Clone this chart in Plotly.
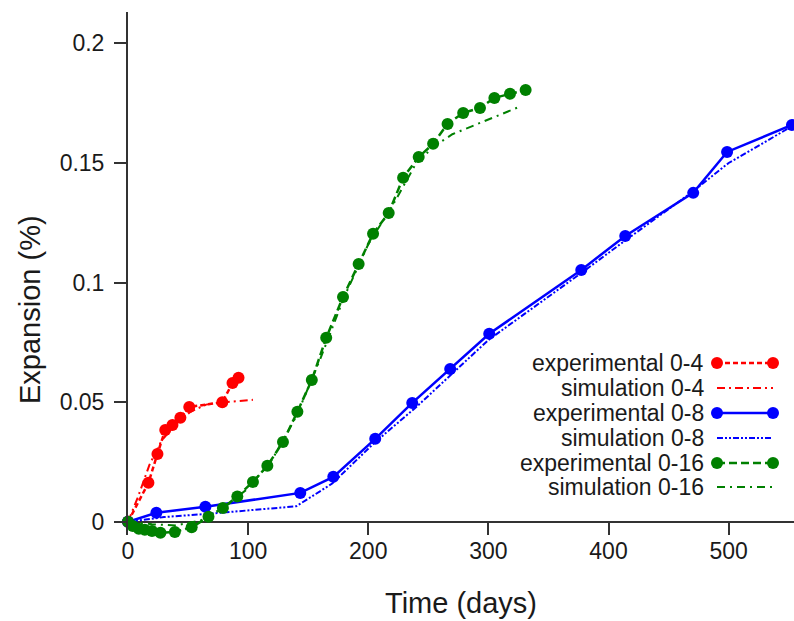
import plotly.graph_objects as go

# Measured expansion (%) against time (days) for the three specimen sizes,
# with the corresponding simulation curves.
exp_04_days = [0, 17, 24.5, 31, 37, 43.6, 51, 78.5, 87, 92]
exp_04_expansion = [0, 0.0163, 0.0284, 0.0384, 0.0405, 0.0435, 0.048, 0.050, 0.058, 0.0602]

sim_04_days = [0, 8, 18, 28, 40, 52, 65, 80, 104]
sim_04_expansion = [0, 0.010, 0.024, 0.034, 0.041, 0.046, 0.049, 0.050, 0.051]

exp_08_days = [0, 23.6, 64.4, 143.4, 170.9, 205.8, 236.6, 268.2, 300.7, 377.3, 413.9, 470.5, 498.7, 552.7]
exp_08_expansion = [0, 0.0038, 0.0063, 0.0121, 0.0188, 0.0347, 0.0497, 0.0639, 0.0786, 0.1053, 0.1195, 0.1375, 0.1546, 0.1659]

sim_08_days = [0, 30, 70, 140, 170, 205, 240, 300, 380, 415, 470, 500, 555]
sim_08_expansion = [0, 0.002, 0.0035, 0.0065, 0.016, 0.033, 0.048, 0.076, 0.105, 0.118, 0.138, 0.150, 0.166]

exp_16_days = [0, 4, 9, 14, 20, 27, 39, 53, 67, 79, 91, 104, 116, 129, 141, 153, 165, 179,
               192, 204, 217, 229, 242, 254, 266, 279, 293, 305, 318, 331]
exp_16_expansion = [0, -0.0017, -0.0029, -0.0033, -0.0038, -0.0046, -0.0042, -0.0023, 0.0021,
                    0.0058, 0.0106, 0.0167, 0.0234, 0.0334, 0.046, 0.0593, 0.0769, 0.094,
                    0.1078, 0.1204, 0.1291, 0.1438, 0.1525, 0.158, 0.1663, 0.1709, 0.173,
                    0.1772, 0.1789, 0.1805]

sim_16_days = [0, 20, 40, 60, 80, 100, 120, 140, 160, 180, 200, 220, 240, 255, 270, 290, 310, 326]
sim_16_expansion = [0, -0.001, -0.0015, 0.0005, 0.006, 0.014, 0.026, 0.044, 0.068, 0.094,
                    0.116, 0.132, 0.150, 0.157, 0.162, 0.166, 0.170, 0.1735]

x_tick_values = [0, 100, 200, 300, 400, 500]
y_tick_values = [0, 0.05, 0.1, 0.15, 0.2]
y_tick_labels = ["0", "0.05", "0.1", "0.15", "0.2"]

legend_labels = ["experimental 0-4", "simulation 0-4", "experimental 0-8",
                 "simulation 0-8", "experimental 0-16", "simulation 0-16"]

RED = "#ff0000"
BLUE = "#0000ff"
GREEN = "#008000"
AXIS = "#333333"
TEXT = "#1a1a1a"
FONT = "Liberation Sans, Arial, sans-serif"

# line styles: (colour, dash, with markers?, width)
styles = [
    (RED, "5px,3px", True, 2.5),
    (RED, "8px,4px,2px,4px", False, 2),
    (BLUE, "solid", True, 2.5),
    (BLUE, "6px,2px,2px,2px,2px,2px", False, 2),
    (GREEN, "8px,4px", True, 2.5),
    (GREEN, "8px,5px,2px,5px", False, 2),
]

series = [
    (exp_04_days, exp_04_expansion),
    (sim_04_days, sim_04_expansion),
    (exp_08_days, exp_08_expansion),
    (sim_08_days, sim_08_expansion),
    (exp_16_days, exp_16_expansion),
    (sim_16_days, sim_16_expansion),
]

fig = go.Figure()

for (xs, ys), (color, dash, markers, width), name in zip(series, styles, legend_labels):
    fig.add_trace(go.Scatter(
        x=xs, y=ys, name=name,
        mode="lines+markers" if markers else "lines",
        line=dict(color=color, width=width, dash=dash),
        marker=dict(size=12, color=color),
        cliponaxis=False,
        showlegend=False,
    ))

# Plot area in page pixels
L, R, T, B = 128, 794, 12, 535

# Hand-built legend: right-aligned label followed by the line sample,
# placed on a hidden overlay axis measured in page pixels.
legend_rows = [363, 388, 413, 438, 463, 487]
for row_y, (color, dash, markers, width), name in zip(legend_rows, styles, legend_labels):
    fig.add_trace(go.Scatter(
        x=[717, 773], y=[row_y, row_y],
        xaxis="x2", yaxis="y2",
        mode="lines+markers" if markers else "lines",
        line=dict(color=color, width=width, dash=dash),
        marker=dict(size=12, color=color),
        showlegend=False, hoverinfo="skip",
    ))
    fig.add_annotation(
        x=706, y=row_y, xref="x2", yref="y2", text=name,
        showarrow=False, xanchor="right", yanchor="middle",
        font=dict(family=FONT, size=23, color=TEXT),
    )

# Axis titles (paper coordinates, placed outside the plot area)
def px_to_paper(px, py):
    return (px - L) / (R - L), (B - py) / (B - T)

tx, ty = px_to_paper(461, 603)
fig.add_annotation(
    x=tx, y=ty, xref="paper", yref="paper", text="Time (days)",
    showarrow=False, xanchor="center", yanchor="middle",
    font=dict(family=FONT, size=29, color=TEXT),
)
tx, ty = px_to_paper(30, 310)
fig.add_annotation(
    x=tx, y=ty, xref="paper", yref="paper", text="Expansion (%)",
    showarrow=False, xanchor="center", yanchor="middle", textangle=-90,
    font=dict(family=FONT, size=29, color=TEXT),
)

fig.update_layout(
    width=794, height=621,
    margin=dict(l=L, r=794 - R, t=T, b=621 - B),
    paper_bgcolor="white", plot_bgcolor="white",
    showlegend=False,
    font=dict(family=FONT, color=TEXT),
    xaxis=dict(
        range=[0, 554.4],
        tickvals=x_tick_values,
        ticks="inside", ticklen=12, tickwidth=2, tickcolor=AXIS,
        showline=False, showgrid=False, zeroline=False,
        tickfont=dict(family=FONT, size=23, color=TEXT),
    ),
    yaxis=dict(
        range=[-0.0055, 0.2131],
        tickvals=y_tick_values, ticktext=y_tick_labels,
        ticks="outside", ticklen=12, tickwidth=2, tickcolor=AXIS,
        ticklabelstandoff=5,
        showline=True, linecolor=AXIS, linewidth=2,
        showgrid=False,
        zeroline=True, zerolinecolor=AXIS, zerolinewidth=2,
        tickfont=dict(family=FONT, size=23, color=TEXT),
    ),
    xaxis2=dict(overlaying="x", range=[L, R], visible=False, fixedrange=True),
    yaxis2=dict(overlaying="y", range=[B, T], visible=False, fixedrange=True),
)

fig.write_html("out.html")
